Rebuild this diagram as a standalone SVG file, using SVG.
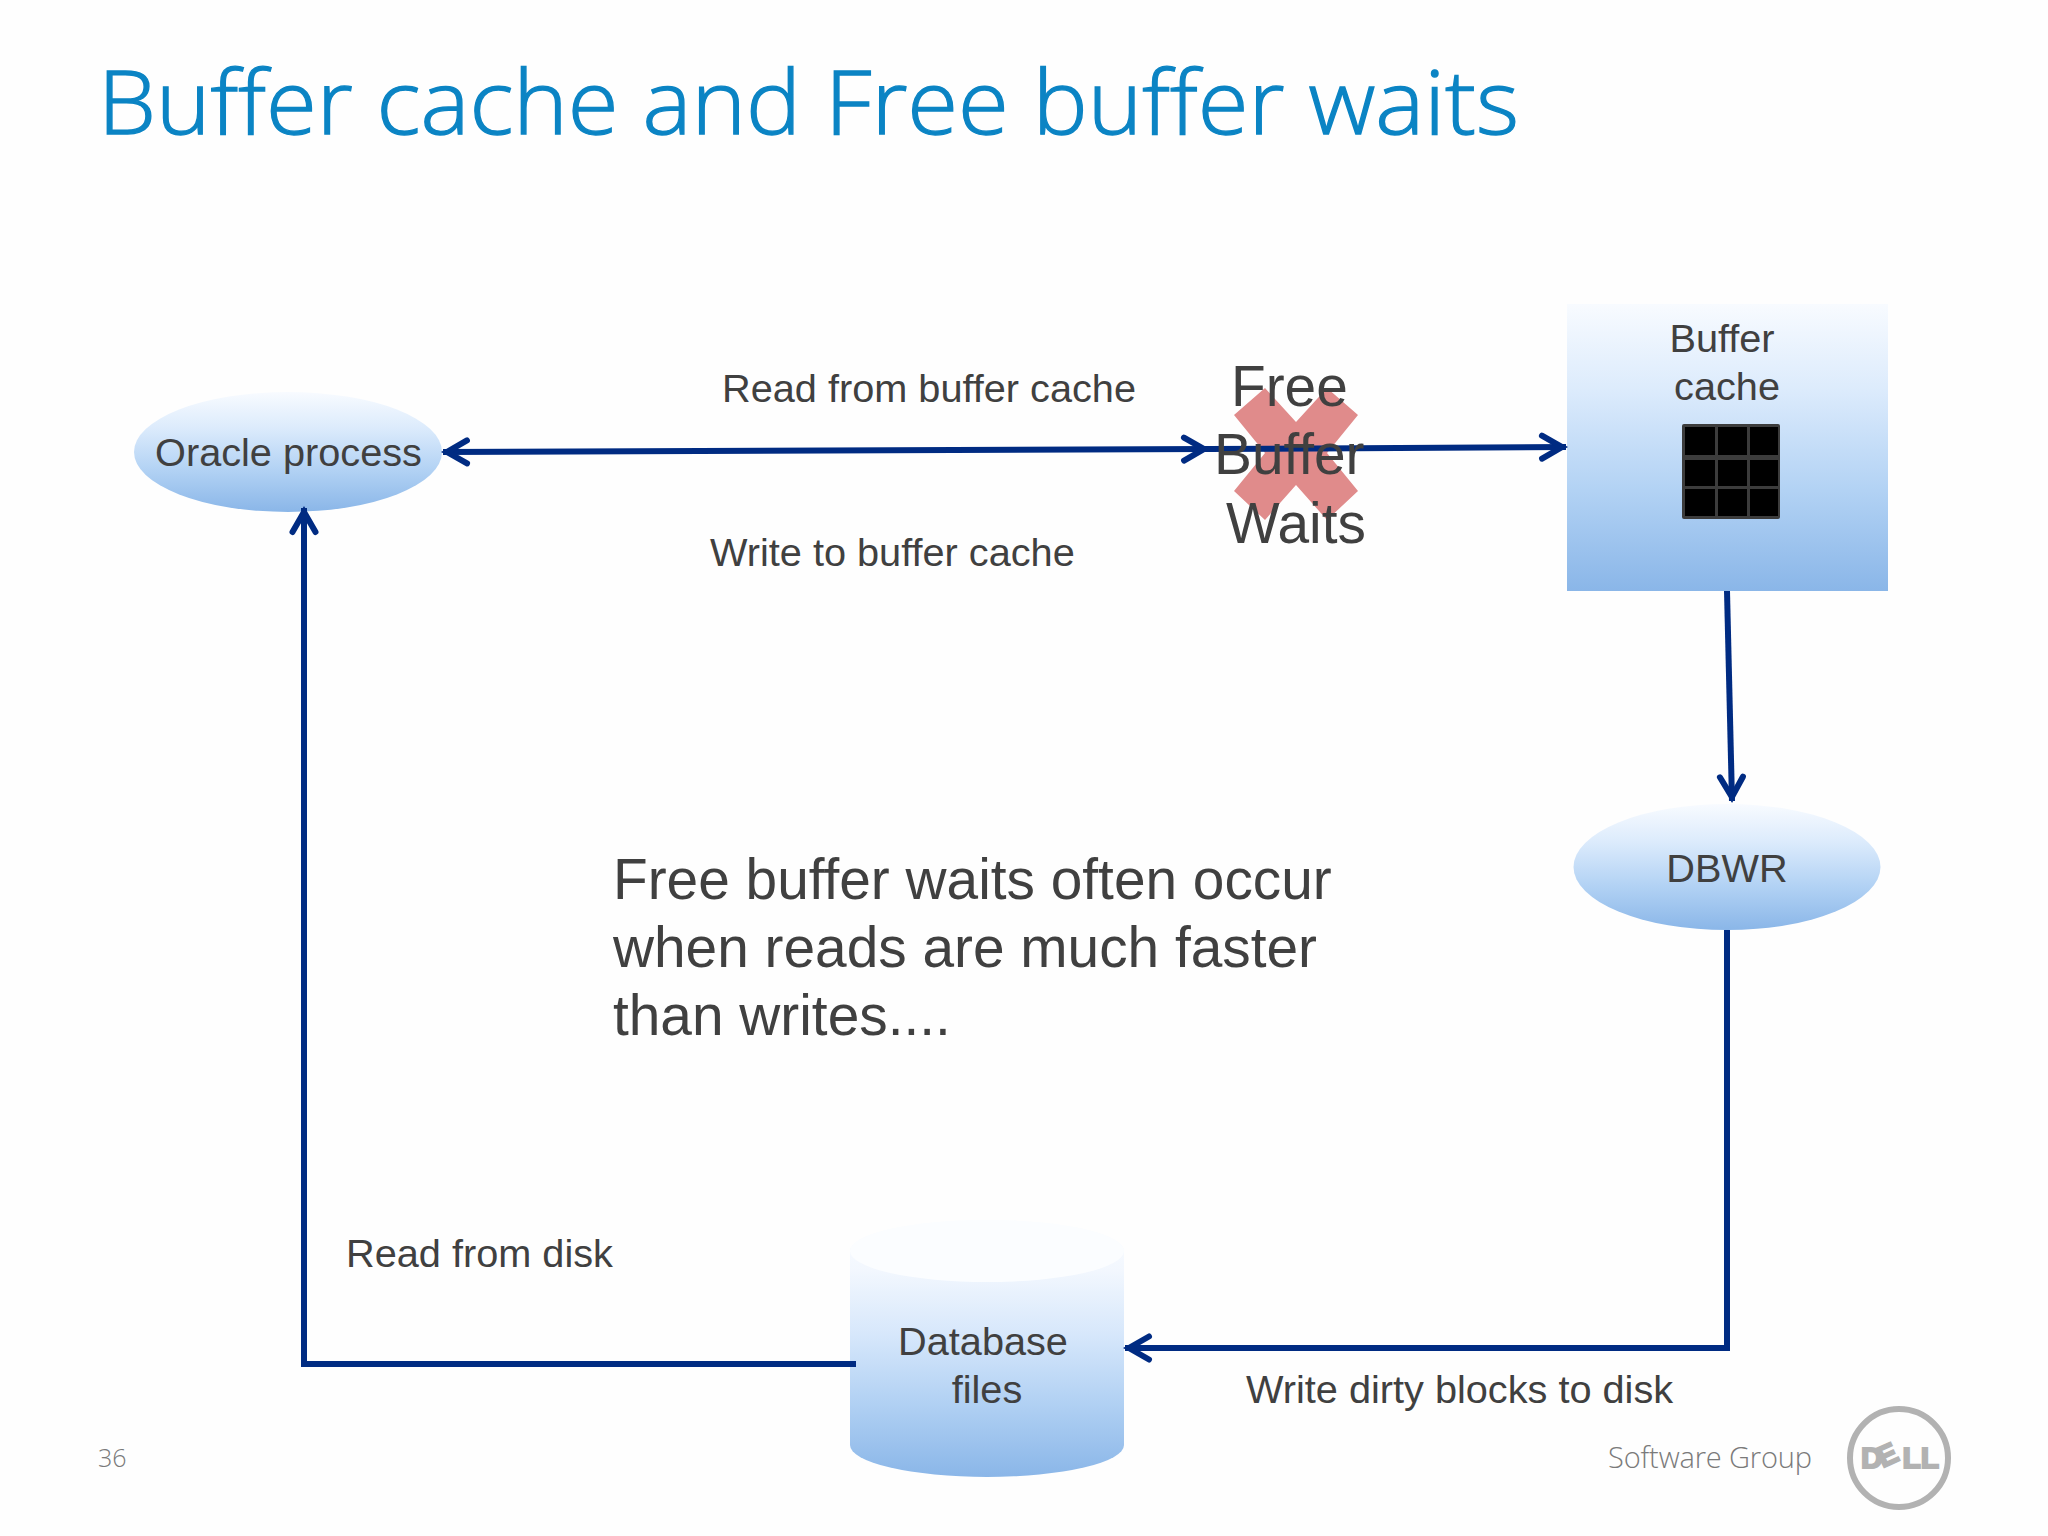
<svg xmlns="http://www.w3.org/2000/svg" width="2048" height="1536" viewBox="0 0 2048 1536">
<style>
text{font-family:"Liberation Sans",Arial,sans-serif;fill:#404040;font-size:39.700px}
.c{text-anchor:middle}
.big{font-size:56.800px}
.lt{font-family:"Open Sans","Noto Sans",sans-serif;font-weight:300;fill:#7a7a7a}
.conn{fill:none;stroke:#002b82;stroke-width:6;stroke-linejoin:miter}
.g{fill:url(#blue)}
</style>
<defs>
<linearGradient id="blue" x1="0" y1="0" x2="0" y2="1">
<stop offset="0" stop-color="#f8fbff"/>
<stop offset="0.3" stop-color="#dcebfc"/>
<stop offset="0.65" stop-color="#b2d2f4"/>
<stop offset="1" stop-color="#8ab6e8"/>
</linearGradient>
<linearGradient id="cyl" x1="0" y1="0" x2="0" y2="1">
<stop offset="0" stop-color="#fbfdff"/>
<stop offset="0.2" stop-color="#f2f7fe"/>
<stop offset="0.45" stop-color="#d6e7fb"/>
<stop offset="0.72" stop-color="#b0d0f3"/>
<stop offset="1" stop-color="#8ab6e8"/>
</linearGradient>
<marker id="a" markerUnits="userSpaceOnUse" markerWidth="60" markerHeight="60" viewBox="-40 -30 60 60" refX="0" refY="0" orient="auto-start-reverse" overflow="visible">
<path d="M-24,-11.500 L-4,0 L-24,11.500" fill="none" stroke="#002b82" stroke-width="6" stroke-linecap="round" stroke-linejoin="miter"/>
</marker>
</defs>
<rect width="2048" height="1536" fill="#fefefe"/>
<text id="title" x="98" y="134" style="font-family:'Open Sans','Noto Sans',sans-serif;font-weight:300;font-size:88px;fill:#0b84c4;stroke:#0b84c4;stroke-width:1.300" textLength="1421" lengthAdjust="spacingAndGlyphs">Buffer cache and Free buffer waits</text>

<g id="x-mark"><path d="M1265,388 L1296,422 L1327,388 L1358,415 L1327,453 L1358,491 L1327,520 L1296,485 L1265,520 L1234,491 L1265,453 L1234,415 Z" fill="#e08b8b"/></g>

<g id="oracle-process"><ellipse class="g" cx="288" cy="452" rx="154" ry="60"/><text class="c" x="288.500" y="466">Oracle process</text></g>
<g id="buffer-cache">
<rect class="g" x="1567" y="304" width="321" height="287"/>
<text class="c" x="1722" y="352">Buffer</text>
<text class="c" x="1727" y="400">cache</text>
<rect x="1682" y="424" width="98" height="95" rx="2" fill="#3c3c3c"/>
<g fill="#000">
<rect x="1685" y="427" width="30" height="28"/><rect x="1718" y="427" width="29" height="28"/><rect x="1750" y="427" width="28" height="28"/>
<rect x="1685" y="460" width="30" height="26"/><rect x="1718" y="460" width="29" height="26"/><rect x="1750" y="460" width="28" height="26"/>
<rect x="1685" y="489" width="30" height="27"/><rect x="1718" y="489" width="29" height="27"/><rect x="1750" y="489" width="28" height="27"/>
</g>
</g>
<g id="dbwr"><ellipse class="g" cx="1727" cy="867" rx="153.500" ry="63"/><text class="c" x="1727" y="882">DBWR</text></g>
<g id="database-files">
<path fill="url(#cyl)" d="M850,1251 A137,31 0 0 1 1124,1251 V1445 A137,32 0 0 1 850,1445 Z"/>
<ellipse cx="987" cy="1251" rx="137" ry="31" fill="#fbfdff"/>
<text class="c" x="983" y="1355">Database</text>
<text class="c" x="987" y="1403">files</text>
</g>

<g id="connectors">
<path class="conn" marker-start="url(#a)" marker-end="url(#a)" d="M443,452 L1208,449"/>
<path class="conn" marker-end="url(#a)" d="M1208,449 L1566,447"/>
<path class="conn" marker-end="url(#a)" d="M1727,591 L1732,801"/>
<path class="conn" marker-end="url(#a)" d="M1727,930 V1348 H1125"/>
<path class="conn" marker-end="url(#a)" d="M856,1364 H304 V508"/>
</g>

<g id="free-buffer-waits">
<text class="big" x="1231" y="406">Free</text>
<text class="big" x="1214" y="474">Buffer</text>
<text class="big" x="1226" y="543">Waits</text>
</g>
<text x="722" y="402">Read from buffer cache</text>
<text x="710" y="566">Write to buffer cache</text>
<text x="346" y="1267">Read from disk</text>
<text x="1246" y="1403">Write dirty blocks to disk</text>
<g id="note">
<text class="big" x="613" y="899">Free buffer waits often occur</text>
<text class="big" x="613" y="967">when reads are much faster</text>
<text class="big" x="613" y="1035">than writes....</text>
</g>
<text class="lt" x="98" y="1467" style="font-size:25px">36</text>
<text class="lt" x="1608" y="1468" style="font-size:29px" textLength="204">Software Group</text>
<g id="logo">
<circle cx="1899" cy="1458" r="49" fill="none" stroke="#b2b2b2" stroke-width="6"/>
<text x="1861" y="1468" textLength="78" lengthAdjust="spacingAndGlyphs" rotate="0 -25 0 0" style="font-weight:bold;font-size:29px;fill:#b2b2b2;stroke:#b2b2b2;stroke-width:2">DELL</text>
</g>
</svg>
